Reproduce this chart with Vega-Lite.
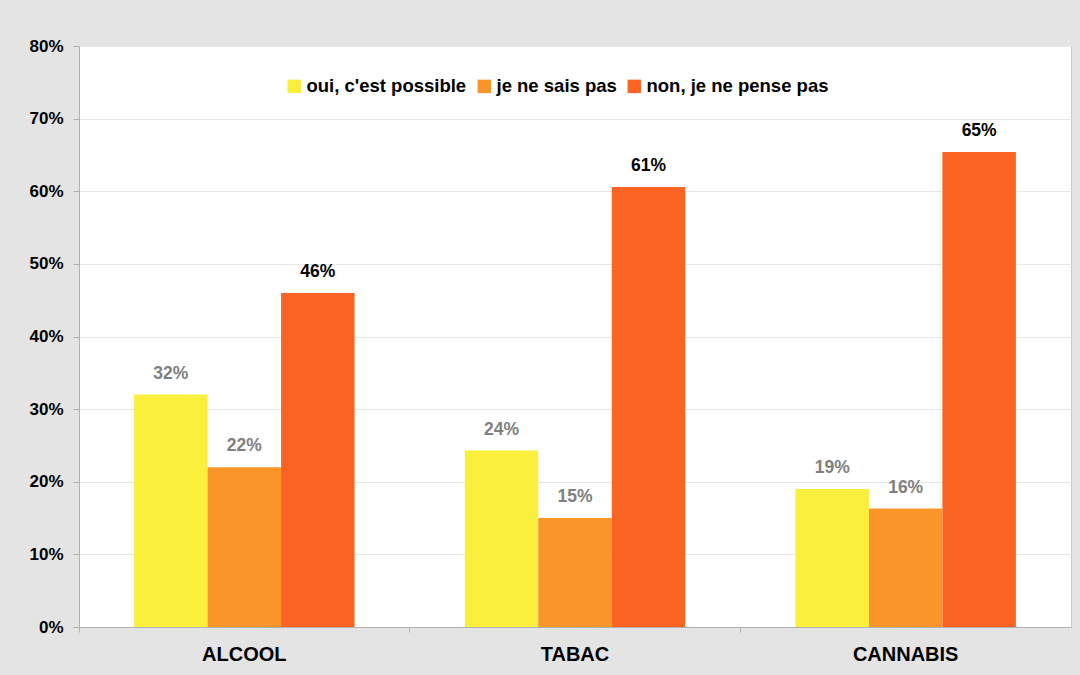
{
  "$schema": "https://vega.github.io/schema/vega-lite/v6.json",
  "autosize": {"type": "none"},
  "width": 992,
  "height": 581,
  "padding": {"left": 79, "top": 46, "right": 9, "bottom": 48},
  "background": "#e4e4e4",
  "config": {
    "view": {"fill": "white", "stroke": "#c8c8c8", "strokeWidth": 1},
    "font": "Liberation Sans"
  },
  "data": {
    "values": [
      {"produit": "ALCOOL", "reponse": "oui, c'est possible", "valeur": 0.32},
      {"produit": "ALCOOL", "reponse": "je ne sais pas", "valeur": 0.22},
      {"produit": "ALCOOL", "reponse": "non, je ne pense pas", "valeur": 0.46},
      {"produit": "TABAC", "reponse": "oui, c'est possible", "valeur": 0.243},
      {"produit": "TABAC", "reponse": "je ne sais pas", "valeur": 0.15},
      {"produit": "TABAC", "reponse": "non, je ne pense pas", "valeur": 0.606},
      {"produit": "CANNABIS", "reponse": "oui, c'est possible", "valeur": 0.19},
      {"produit": "CANNABIS", "reponse": "je ne sais pas", "valeur": 0.163},
      {"produit": "CANNABIS", "reponse": "non, je ne pense pas", "valeur": 0.654}
    ]
  },
  "encoding": {
    "x": {
      "field": "produit", "type": "nominal",
      "sort": ["ALCOOL", "TABAC", "CANNABIS"],
      "scale": {"paddingInner": 0, "paddingOuter": 0},
      "axis": {
        "title": null, "labelAngle": 0, "bandPosition": 0,
        "labelFont": "Liberation Sans", "labelFontSize": 20, "labelFontWeight": "bold",
        "labelColor": "black", "labelPadding": 12,
        "domainColor": "#b0b0b0", "tickColor": "#b0b0b0", "tickSize": 5,
        "grid": false
      }
    },
    "xOffset": {
      "field": "reponse", "type": "nominal",
      "sort": ["oui, c'est possible", "je ne sais pas", "non, je ne pense pas"],
      "scale": {"paddingOuter": 0.75, "paddingInner": 0}
    },
    "y": {
      "field": "valeur", "type": "quantitative",
      "scale": {"domain": [0, 0.8]},
      "axis": {
        "title": null, "format": ".0%", "values": [0, 0.1, 0.2, 0.3, 0.4, 0.5, 0.6, 0.7, 0.8],
        "labelOverlap": false,
        "labelFont": "Liberation Sans", "labelFontSize": 17, "labelFontWeight": "bold",
        "labelColor": "black", "labelPadding": 10,
        "domainColor": "#b0b0b0", "tickColor": "#b0b0b0", "tickSize": 6,
        "gridColor": "#e6e6e6"
      }
    }
  },
  "layer": [
    {
      "mark": {"type": "bar"},
      "encoding": {
        "color": {
          "field": "reponse", "type": "nominal",
          "sort": ["oui, c'est possible", "je ne sais pas", "non, je ne pense pas"],
          "scale": {
            "domain": ["oui, c'est possible", "je ne sais pas", "non, je ne pense pas"],
            "range": ["#F9EF3C", "#FA9529", "#FA6322"]
          },
          "legend": {
            "title": null, "orient": "none", "direction": "horizontal",
            "legendX": 206, "legendY": 31,
            "symbolType": "square", "symbolSize": 180, "symbolStrokeWidth": 0,
            "labelFont": "Liberation Sans", "labelFontSize": 18.5, "labelFontWeight": "bold",
            "labelColor": "black", "labelOffset": 3, "columnPadding": 8,
            "labelLimit": 400, "padding": 0
          }
        }
      }
    },
    {
      "mark": {"type": "text", "baseline": "middle", "align": "center", "dy": -21,
               "fontSize": 17.5, "fontWeight": "bold", "font": "Liberation Sans"},
      "encoding": {
        "text": {"field": "valeur", "type": "quantitative", "format": ".0%"},
        "color": {
          "condition": {"test": "datum.reponse === 'non, je ne pense pas'", "value": "black"},
          "value": "#808080"
        }
      }
    }
  ]
}
